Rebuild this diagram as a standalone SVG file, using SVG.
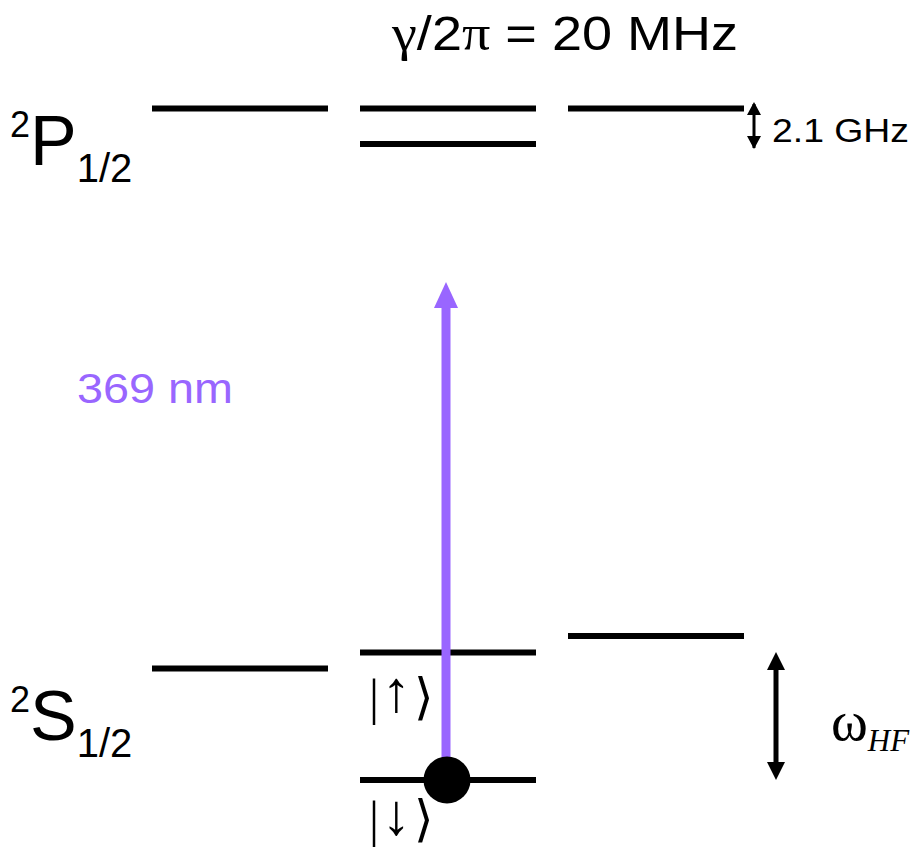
<svg xmlns="http://www.w3.org/2000/svg" width="914" height="851" viewBox="0 0 914 851">
<style>
.lvl{stroke:#000;stroke-width:6;fill:none}
.sans{font-family:"Liberation Sans",Arial,sans-serif;fill:#000}
.serif{font-family:"Liberation Serif","DejaVu Serif",serif;fill:#000}
</style>
<rect width="914" height="851" fill="#fff"/>
<g id="title"><text class="sans" x="392" y="50" font-size="48" textLength="346" lengthAdjust="spacingAndGlyphs"><tspan class="serif" font-size="50">γ</tspan>/2<tspan class="serif" font-size="50">π</tspan> = 20 MHz</text></g>
<g id="P-label"><text class="sans" x="10" y="165" font-size="70"><tspan font-size="36" dy="-28">2</tspan><tspan dy="28">P</tspan><tspan font-size="40" dy="17">1/2</tspan></text></g>
<g id="S-label"><text class="sans" x="10" y="740" font-size="70"><tspan font-size="36" dy="-28">2</tspan><tspan dy="28">S</tspan><tspan font-size="40" dy="17">1/2</tspan></text></g>
<g id="P-levels">
<line class="lvl" x1="152" y1="108.5" x2="328" y2="108.5"/>
<line class="lvl" x1="360" y1="108.5" x2="536" y2="108.5"/>
<line class="lvl" x1="360" y1="144" x2="536" y2="144"/>
<line class="lvl" x1="568" y1="108.5" x2="744" y2="108.5"/>
</g>
<g id="S-levels">
<line class="lvl" x1="152" y1="668.5" x2="328" y2="668.5"/>
<line class="lvl" x1="360" y1="652.5" x2="536" y2="652.5"/>
<line class="lvl" x1="360" y1="780" x2="536" y2="780"/>
<line class="lvl" x1="568" y1="636" x2="744" y2="636"/>
</g>
<g id="connectors">
<line x1="446" y1="760" x2="446" y2="305" stroke="#9966FF" stroke-width="9"/>
<path d="M446,282L458,308L434,308z" fill="#9966FF"/>
<line x1="754" y1="104" x2="754" y2="148" stroke="#000" stroke-width="3"/>
<path d="M754,102L761,115L747,115z M754,149L761,136L747,136z" fill="#000"/>
<line x1="776" y1="665" x2="776" y2="767" stroke="#000" stroke-width="5"/>
<path d="M776,652L785,670L767,670z M776,780L785,762L767,762z" fill="#000"/>
</g>
<g id="ground-state"><circle cx="447" cy="780" r="23.5" fill="#000"/></g>
<g id="labels">
<text x="77" y="403" font-size="43" fill="#9966FF" font-family="Liberation Sans,Arial,sans-serif" textLength="156" lengthAdjust="spacingAndGlyphs">369 nm</text>
<text class="sans" x="772" y="142" font-size="33" textLength="137" lengthAdjust="spacingAndGlyphs">2.1 GHz</text>
<text class="serif" font-size="50"><tspan x="369" y="714">|</tspan><tspan x="382" y="711" font-size="58">↑</tspan><tspan x="414" y="714">⟩</tspan></text>
<text class="serif" font-size="50"><tspan x="369" y="836">|</tspan><tspan x="382" y="834" font-size="58">↓</tspan><tspan x="414" y="836">⟩</tspan></text>
<text class="serif" x="831" y="740" font-size="56">ω<tspan font-style="italic" font-size="31" dy="11">HF</tspan></text>
</g>
</svg>
